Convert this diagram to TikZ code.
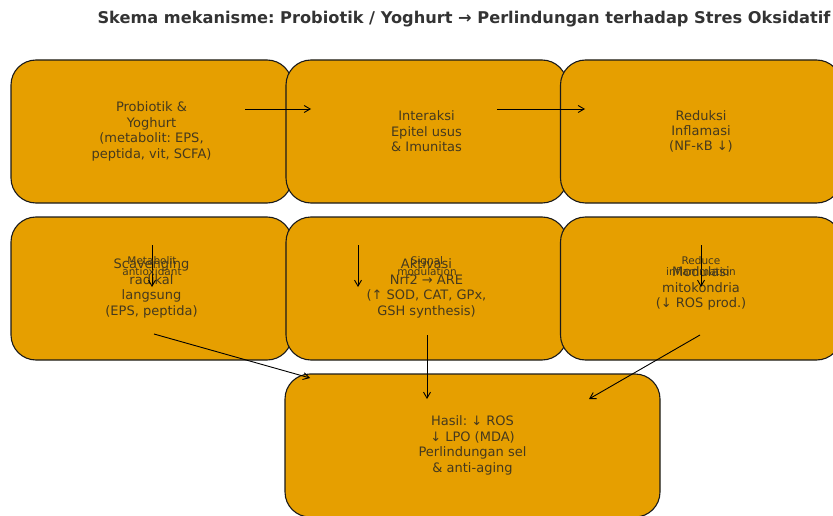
\documentclass[tikz,border=0pt]{standalone}
\usepackage{fontspec}
\setmainfont{DejaVu Sans}
\frenchspacing
\usetikzlibrary{arrows.meta}
\definecolor{boxfill}{HTML}{E69F00}
\definecolor{boxedge}{HTML}{1A1A1A}
\definecolor{txt}{HTML}{45391E}
\definecolor{titlecol}{HTML}{333333}
\begin{document}
\begin{tikzpicture}[x=1pt,y=-1pt,
  box/.style={draw=boxedge, fill=boxfill, rounded corners=25pt, line width=1.1pt,
    minimum width=281pt, minimum height=143pt, inner sep=0pt, align=center,
    text=txt, font=\fontsize{13}{15.4}\selectfont},
  lbl/.style={text=txt, font=\fontsize{10.5}{11.5}\selectfont, align=center, inner sep=0pt},
  arr/.style={-{Straight Barb[length=6pt,width=7pt]}, line width=0.9pt, black}]
\useasboundingbox (0,0) rectangle (833,516);
\begin{scope}
\clip (0,0) rectangle (833,516);
\node[titlecol, font=\fontsize{16.2}{19}\selectfont\bfseries] (title) at (464,19.5)
  {Skema mekanisme: Probiotik / Yoghurt → Perlindungan terhadap Stres Oksidatif};
\node[box] (p) at (151.5,131.5) {Probiotik \&\\Yoghurt\\(metabolit: EPS,\\peptida, vit, SCFA)};
\node[box] (e) at (426.5,131.5) {Interaksi\\Epitel usus\\\& Imunitas};
\node[box] (r) at (701,131.5) {Reduksi\\Inflamasi\\(NF-κB ↓)};
\node[box] (s) at (151.5,288.5) {Scavenging\\radikal\\langsung\\(EPS, peptida)};
\node[box] (n) at (426.5,288.5) {Aktivasi\\Nrf2 → ARE\\(↑ SOD, CAT, GPx,\\GSH synthesis)};
\node[box] (m) at (701,288.5) {Modulasi\\mitokondria\\(↓ ROS prod.)};
\node[box, minimum width=375pt] (h) at (472.5,445.5) {Hasil: ↓ ROS\\↓ LPO (MDA)\\Perlindungan sel\\\& anti-aging};

\coordinate (a1s) at (245,109); \coordinate (a1e) at (311,109);
\coordinate (a2s) at (497,109); \coordinate (a2e) at (585,109);
\coordinate (d1s) at (152,245); \coordinate (d1e) at (152,287);
\coordinate (d2s) at (358,245); \coordinate (d2e) at (358,287);
\coordinate (d3s) at (701,245); \coordinate (d3e) at (701,287);
\coordinate (b1s) at (154,334); \coordinate (b1e) at (310,378);
\coordinate (b2s) at (427,335); \coordinate (b2e) at (427,399);
\coordinate (b3s) at (700,335); \coordinate (b3e) at (589,399);

\draw[arr] (a1s) -- (a1e);
\draw[arr] (a2s) -- (a2e);
\draw[arr] (d1s) -- (d1e);
\draw[arr] (d2s) -- (d2e);
\draw[arr] (d3s) -- (d3e);
\draw[arr] (b1s) -- (b1e);
\draw[arr] (b2s) -- (b2e);
\draw[arr] (b3s) -- (b3e);

\node[lbl] (l1) at (152,266) {Metabolit\\antioxidant};
\node[lbl] (l2) at (427,266) {Signal\\modulation};
\node[lbl] (l3) at (701,266) {Reduce\\inflammation};
\end{scope}
\end{tikzpicture}
\end{document}
